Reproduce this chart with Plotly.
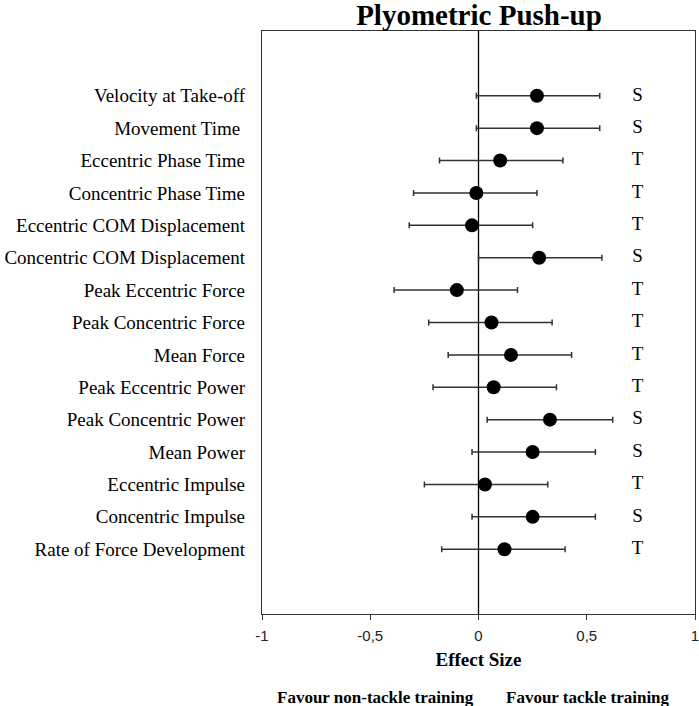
import plotly.graph_objects as go

categories = ["Velocity at Take-off", "Movement Time ", "Eccentric Phase Time",
              "Concentric Phase Time", "Eccentric COM Displacement",
              "Concentric COM Displacement", "Peak Eccentric Force",
              "Peak Concentric Force", "Mean Force", "Peak Eccentric Power",
              "Peak Concentric Power", "Mean Power", "Eccentric Impulse",
              "Concentric Impulse", "Rate of Force Development"]
effect = [0.27, 0.27, 0.10, -0.01, -0.03, 0.28, -0.10, 0.06, 0.15, 0.07, 0.33, 0.25, 0.03, 0.25, 0.12]
ci_low = [-0.01, -0.01, -0.18, -0.30, -0.32, 0.00, -0.39, -0.23, -0.14, -0.21, 0.04, -0.03, -0.25, -0.03, -0.17]
ci_high = [0.56, 0.56, 0.39, 0.27, 0.25, 0.57, 0.18, 0.34, 0.43, 0.36, 0.62, 0.54, 0.32, 0.54, 0.40]
labels = ["S", "S", "T", "T", "T", "S", "T", "T", "T", "T", "S", "S", "T", "S", "T"]
x_ticks = [-1, -0.5, 0, 0.5, 1]
x_ticktext = ["-1", "-0,5", "0", "0,5", "1"]

rows = list(range(1, len(categories) + 1))
serif = "Liberation Serif, Times New Roman, serif"

W, H = 699, 706
L, R, T, B = 262, 4, 31, 92

fig = go.Figure()
fig.add_trace(go.Scatter(
    x=effect, y=rows, mode="markers",
    marker=dict(size=14, color="black"),
    error_x=dict(type="data", symmetric=False,
                 array=[h - e for h, e in zip(ci_high, effect)],
                 arrayminus=[e - l for e, l in zip(effect, ci_low)],
                 color="#333333", thickness=1.5, width=3),
    showlegend=False, hoverinfo="skip"))
fig.add_trace(go.Scatter(
    x=[0.735] * len(labels), y=rows, mode="text", text=labels,
    textfont=dict(family=serif, size=19, color="black"),
    showlegend=False, hoverinfo="skip"))

fig.add_shape(type="line", x0=0, x1=0, y0=0, y1=1, yref="paper",
              line=dict(color="black", width=1.3), layer="below")

fig.update_layout(
    width=W, height=H,
    margin=dict(l=L, r=R, t=T, b=B, autoexpand=False),
    plot_bgcolor="white", paper_bgcolor="white",
    title=dict(text="<b>Plyometric Push-up</b>", x=479 / W, xanchor="center",
               y=1 - 15 / H, yanchor="middle",
               font=dict(family=serif, size=29, color="black")),
    xaxis=dict(range=[-1, 1], tickvals=x_ticks, ticktext=x_ticktext,
               showgrid=False, zeroline=False, showline=True, mirror=True,
               linecolor="#333333", linewidth=1.3, ticks="outside", ticklen=5,
               tickcolor="#333333", automargin=False, ticklabeloverflow="allow",
               ticklabelstandoff=3,
               tickfont=dict(family="Liberation Sans, Arial, sans-serif", size=15, color="#222"),
               title=dict(text="<b>Effect Size</b>", standoff=9,
                          font=dict(family=serif, size=19, color="black"))),
    yaxis=dict(range=[17, -1], tickvals=rows, ticktext=categories,
               showgrid=False, zeroline=False, showline=True, mirror=True,
               linecolor="#333333", linewidth=1.3, ticks="", ticklabelstandoff=12,
               automargin=False,
               tickfont=dict(family=serif, size=19, color="black")),
)

pw = W - L - R
for txt, xc in [("<b>Favour non-tackle training</b>", 375), ("<b>Favour tackle training</b>", 588)]:
    fig.add_annotation(text=txt, x=(xc - L) / pw, y=0,
                       xref="paper", yref="paper", xanchor="center", yanchor="middle",
                       showarrow=False, yshift=-(697 - (H - B)),
                       font=dict(family=serif, size=17, color="black"))

fig.write_html("out.html", config={"displayModeBar": False},
               post_script="document.body.style.margin='0';document.body.style.overflow='hidden';")
